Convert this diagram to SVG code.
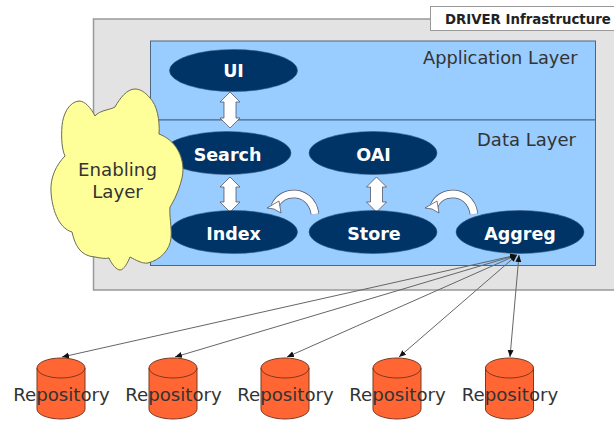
<svg xmlns="http://www.w3.org/2000/svg" width="614" height="421" viewBox="0 0 614 421">
<style>
text{font-family:"DejaVu Sans",Verdana,sans-serif}
.panel{fill:#99ccff;stroke:#4d6680;stroke-width:1}
.node{fill:#003366;stroke:#335a80;stroke-width:.6}
.nl{fill:#fff;font-weight:bold;font-size:17.500px;text-anchor:middle}
.ll{fill:#333;font-size:18px}
.rep{fill:#ff6633;stroke:#7a3a20;stroke-width:1}
.rl{fill:#333;font-size:18.200px;text-anchor:middle}
.dbl{fill:#fff;stroke:#445;stroke-width:.7}
.link{stroke:#666;stroke-width:1;fill:none;marker-start:url(#a);marker-end:url(#a)}
.arcO{fill:none;stroke:#556;stroke-width:8.500}
.arcI{fill:none;stroke:#fff;stroke-width:7}
</style>
<defs>
<marker id="a" markerUnits="userSpaceOnUse" markerWidth="9" markerHeight="7" refX="7" refY="3.500" orient="auto-start-reverse"><path d="M0,0.500L7,3.500L0,6.500z" fill="#111"/></marker>
</defs>
<g id="infrastructure">
<rect x="93.500" y="19" width="530" height="271" fill="#e3e3e3" stroke="#999" stroke-width="1.500"/>
</g>
<g id="driver-label">
<rect x="430.500" y="6.500" width="190" height="24" fill="#fff" stroke="#999" stroke-width="1"/>
<text x="445" y="24" font-size="13.300" font-weight="bold" fill="#222">DRIVER Infrastructure</text>
</g>
<g id="application-layer">
<rect class="panel" x="150.500" y="41" width="445" height="79"/>
<text class="ll" x="423" y="64" font-size="17.800" style="font-size:17.800px">Application Layer</text>
</g>
<g id="data-layer">
<rect class="panel" x="150.500" y="120" width="445" height="145.500"/>
<text class="ll" x="477" y="146">Data Layer</text>
</g>
<g id="connectors">
<path class="dbl" d="M230,92L240,102H236V118H240L230,128L220,118H224V102H220Z"/>
<path class="dbl" d="M230,177L240,187H236V202H240L230,212L220,202H224V187H220Z"/>
<path class="dbl" d="M376.500,177L386.500,187H382.500V202H386.500L376.500,212L366.500,202H370.500V187H366.500Z"/>
<path class="arcO" d="M315,214C313,200 303,194 294,194C285,194 278,199 275,206"/>
<path class="arcI" d="M315,214C313,200 303,194 294,194C285,194 278,199 275,206"/>
<path class="dbl" d="M267,208L279,201L281,213L274,209Z"/>
<path class="arcO" d="M474,214C472,200 462,194 453,194C444,194 437,199 434,206"/>
<path class="arcI" d="M474,214C472,200 462,194 453,194C444,194 437,199 434,206"/>
<path class="dbl" d="M425,208L437,201L439,213L432,209Z"/>
<line class="link" x1="517" y1="255" x2="62" y2="357"/>
<line class="link" x1="517" y1="255" x2="175" y2="357"/>
<line class="link" x1="517" y1="255" x2="287" y2="357"/>
<line class="link" x1="517" y1="255" x2="399" y2="357"/>
<line class="link" x1="519" y1="255" x2="510" y2="357"/>
</g>
<g id="ui"><ellipse class="node" cx="233.500" cy="70.500" rx="64" ry="21"/><text class="nl" x="233.500" y="77">UI</text></g>
<g id="search"><ellipse class="node" cx="227" cy="153" rx="64" ry="21.500"/><text class="nl" x="227.500" y="160.500">Search</text></g>
<g id="oai"><ellipse class="node" cx="373" cy="153" rx="64" ry="21.500"/><text class="nl" x="373.500" y="160.500">OAI</text></g>
<g id="index"><ellipse class="node" cx="233.500" cy="232" rx="64" ry="21.500"/><text class="nl" x="233.500" y="240">Index</text></g>
<g id="store"><ellipse class="node" cx="373" cy="232" rx="64" ry="21.500"/><text class="nl" x="374" y="240">Store</text></g>
<g id="aggreg"><ellipse class="node" cx="520" cy="232" rx="64" ry="21.500"/><text class="nl" x="520" y="240">Aggreg</text></g>
<g id="enabling-layer">
<path d="M95,116C91,108 85,101 79,101C69,102 63,114 62,126C61,138 62,150 65,156C56,165 50,178 51,192C52,208 58,228 72,232C75,245 80,256 95,257C100,258 106,259 109,258C112,265 117,270 120,270C124,270 128,262 130,257C136,260 142,264 148,263C160,260 170,250 171,238C172,228 169,215 170,207C176,198 183,180 183,170C183,155 175,140 159,134C160,120 157,105 150,98C145,92 140,89 135,89C127,89 120,98 115,107C110,110 100,110 95,116Z" fill="#ffff99" stroke="#6b6b55" stroke-width="1"/>
<text x="117.500" y="176" font-size="18.200" fill="#333" text-anchor="middle">Enabling</text>
<text x="117.500" y="198" font-size="18.200" fill="#333" text-anchor="middle">Layer</text>
</g>
<g id="repo1"><path class="rep" d="M37,368V409A24,10 0 0 0 85,409V368A24,10 0 0 0 37,368A24,10 0 0 0 85,368"/><text class="rl" x="61.500" y="401">Repository</text></g>
<g id="repo2"><path class="rep" d="M149,368V409A24,10 0 0 0 197,409V368A24,10 0 0 0 149,368A24,10 0 0 0 197,368"/><text class="rl" x="173.500" y="401">Repository</text></g>
<g id="repo3"><path class="rep" d="M261,368V409A24,10 0 0 0 309,409V368A24,10 0 0 0 261,368A24,10 0 0 0 309,368"/><text class="rl" x="285.500" y="401">Repository</text></g>
<g id="repo4"><path class="rep" d="M373,368V409A24,10 0 0 0 421,409V368A24,10 0 0 0 373,368A24,10 0 0 0 421,368"/><text class="rl" x="397.500" y="401">Repository</text></g>
<g id="repo5"><path class="rep" d="M485.500,368V409A24,10 0 0 0 533.500,409V368A24,10 0 0 0 485.500,368A24,10 0 0 0 533.500,368"/><text class="rl" x="510" y="401">Repository</text></g>
</svg>
